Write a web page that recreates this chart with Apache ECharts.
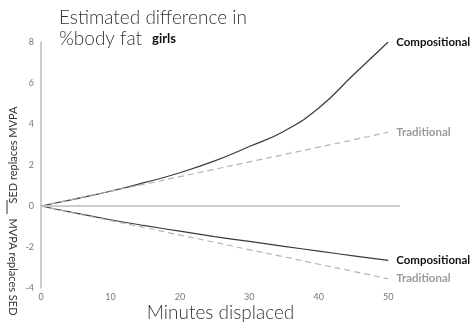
<!DOCTYPE html>
<html>
<head>
<meta charset="utf-8">
<script src="https://cdn.jsdelivr.net/npm/echarts@6/dist/echarts.min.js"></script>
<style>
    html, body { margin: 0; padding: 0; background: #fff; }
    #chart { width: 472px; height: 323px; }
</style>
</head>
<body>
<div id="chart"></div>
<script>
// minutes displaced
var minutes = [0, 5, 10, 15, 20, 25, 30, 35, 40, 45, 50];
// SED replaces MVPA
var compUp = [0, 0.35, 0.72, 1.15, 1.62, 2.2, 2.9, 3.65, 4.78, 6.4, 8.0];
var tradUp = [0, 0.36, 0.72, 1.07, 1.43, 1.79, 2.15, 2.51, 2.87, 3.23, 3.6];
// MVPA replaces SED
var compDown = [0, -0.35, -0.67, -0.96, -1.23, -1.49, -1.73, -1.97, -2.2, -2.43, -2.65];
var tradDown = [0, -0.36, -0.71, -1.06, -1.42, -1.77, -2.13, -2.48, -2.84, -3.19, -3.55];

var yTicks = [-4, -2, 0, 2, 4, 6, 8];
var xTicks = [0, 10, 20, 30, 40, 50];

var FONT = 'Lato';

function pairs(ys) {
    var out = [];
    for (var i = 0; i < minutes.length; i++) {
        out.push([minutes[i], ys[i]]);
    }
    return out;
}

//一条曲线
function makeLine(name, ys, dashed, label) {
    return {
        name: name,
        type: 'line',
        data: pairs(ys),
        smooth: true,
        symbol: 'none',
        lineStyle: {
            color: dashed ? '#b5b5b5' : '#3a3a3a',
            width: 1.2,
            type: dashed ? [6, 4] : 'solid'
        },
        endLabel: {
            show: true,
            formatter: label,
            distance: 8,
            fontFamily: FONT,
            fontSize: 11.5,
            fontWeight: 'bold',
            color: dashed ? '#9a9a9a' : '#111'
        },
        silent: true
    };
}

var series = [
    makeLine('compUp', compUp, false, 'Compositional'),
    makeLine('tradUp', tradUp, true, 'Traditional'),
    makeLine('compDown', compDown, false, 'Compositional'),
    makeLine('tradDown', tradDown, true, 'Traditional')
];
// zero line
series[0].markLine = {
    silent: true,
    symbol: 'none',
    label: { show: false },
    lineStyle: { color: '#bdbdbd', type: 'solid', width: 1.5 },
    data: [{ yAxis: 0 }]
};

var option = {
    animation: false,
    title: {
        left: 54,
        top: 2,
        text: '{a|Estimated difference in}\n{a|%body fat}  {b|girls}',
        textStyle: {
            rich: {
                a: { fontFamily: FONT, fontSize: 19, fontWeight: 300, color: '#333', lineHeight: 21 },
                b: { fontFamily: FONT, fontSize: 13, fontWeight: 'bold', color: '#111', lineHeight: 21 }
            }
        }
    },
    grid: { left: 41, right: 72, top: 42, bottom: 35, containLabel: false, outerBoundsMode: 'none' },
    xAxis: {
        type: 'value',
        min: 0,
        max: 51.7,
        interval: 10,
        name: 'Minutes displaced',
        nameLocation: 'middle',
        nameGap: 15,
        nameMoveOverlap: false,
        nameTextStyle: { fontFamily: FONT, fontSize: 19, fontWeight: 300, color: '#333' },
        axisLine: { show: false },
        axisTick: { show: false },
        splitLine: { show: false },
        axisLabel: {
            showMaxLabel: false,
            fontFamily: FONT,
            fontSize: 9,
            color: '#777',
            margin: 5,
            formatter: function (v) { return xTicks.indexOf(v) >= 0 ? v : ''; }
        }
    },
    yAxis: {
        type: 'value',
        min: yTicks[0],
        max: yTicks[yTicks.length - 1],
        interval: 2,
        axisLine: { show: true, onZero: false, lineStyle: { color: '#bdbdbd', width: 1.5 } },
        axisTick: { show: false },
        splitLine: { show: false },
        axisLabel: {
            fontFamily: FONT,
            fontSize: 9,
            color: '#777',
            margin: 7
        }
    },
    graphic: [
        {
            type: 'text',
            x: 13, y: 155,
            rotation: Math.PI / 2,
            style: {
                text: 'SED replaces MVPA',
                fontFamily: FONT, fontSize: 11, fill: '#333',
                align: 'center', verticalAlign: 'middle'
            }
        },
        {
            type: 'text',
            x: 13, y: 267,
            rotation: -Math.PI / 2,
            style: {
                text: 'MVPA replaces SED',
                fontFamily: FONT, fontSize: 11, fill: '#333',
                align: 'center', verticalAlign: 'middle'
            }
        },
        {
            type: 'line',
            shape: { x1: 7, y1: 200, x2: 7, y2: 214 },
            style: { stroke: '#333', lineWidth: 1 }
        }
    ],
    series: series
};

var chart = echarts.init(document.getElementById('chart'));
chart.setOption(option);
</script>
</body>
</html>
